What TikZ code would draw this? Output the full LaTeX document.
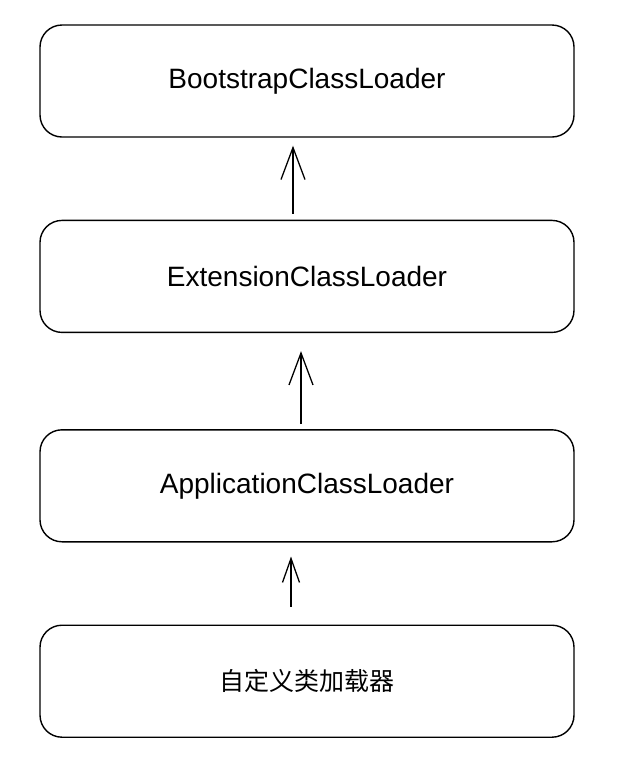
\documentclass[tikz,border=0pt]{standalone}
\usepackage{fontspec}
\setmainfont{Liberation Sans}
\newfontfamily\cjk{Noto Sans CJK SC}
\usetikzlibrary{
  arrows.meta,
  positioning,
}
\tikzset{
  >={Straight Barb[length=32pt,width=24pt]},
  shorten >=1pt,
}

\begin{document}
\begin{tikzpicture}[x=1pt,y=1pt,node distance=82pt and 0pt,
    loader/.style={draw,rectangle,rounded corners=22pt,line width=1.4pt,minimum width=534,minimum height=112,font=\fontsize{28}{32}\selectfont},
    up/.style={->,line width=1.3pt}]
        \useasboundingbox (0,0) rectangle (621,-777);

        \node[loader]    (boot) at (307,-81)       {BootstrapClassLoader};
        \node[loader]    (ext)  [below=of boot]    {ExtensionClassLoader};
        \node[loader]    (app)  [below=96pt of ext] {ApplicationClassLoader};
        \node[loader,font=\cjk\fontsize{25}{28}\selectfont]    (own)  [below=of app]     {自定义类加载器};

        % parent delegation, bottom to top
        \draw[up,shorten <=6pt,shorten >=8pt]   ([xshift=-14pt]ext.north) -- ([xshift=-14pt]boot.south);
        \draw[up,shorten <=5pt,shorten >=18pt]  ([xshift=-6pt]app.north)  -- ([xshift=-6pt]ext.south);
        \draw[up,-{Straight Barb[length=24pt,width=17pt]},shorten <=18pt,shorten >=14pt] ([xshift=-16pt]own.north) -- ([xshift=-16pt]app.south);
    \end{tikzpicture}
\end{document}
